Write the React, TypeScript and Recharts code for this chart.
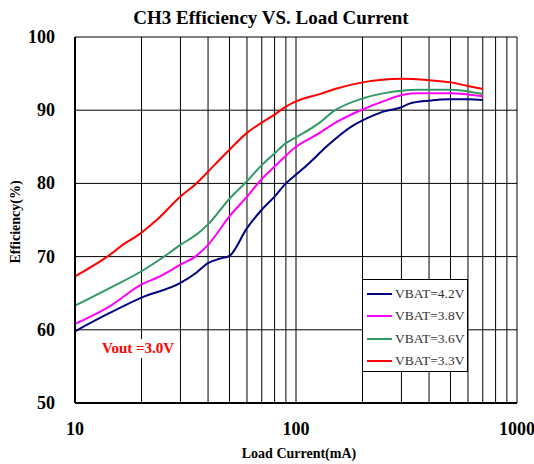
import React from 'react';
import { LineChart, Line, XAxis, YAxis, CartesianGrid } from 'recharts';

// load current (mA) and efficiency (%) per battery voltage
const loadVbat42 = [10, 14.35, 20, 30, 35.4, 40, 45, 50, 60, 70, 80, 90, 100, 115, 137, 181, 200, 248, 300, 326, 400, 500, 600, 700];
const effVbat42 = [59.8, 62.3, 64.4, 66.4, 67.8, 69.1, 69.7, 70.1, 73.9, 76.4, 78.2, 80.0, 81.2, 82.8, 85.0, 87.9, 88.6, 89.8, 90.4, 90.9, 91.3, 91.5, 91.5, 91.4];

const loadVbat38 = [10, 14.35, 20, 24.2, 30, 35.4, 40, 50, 60, 70, 80, 100, 128, 147, 200, 248, 305, 357, 500, 700];
const effVbat38 = [60.8, 63.2, 66.2, 67.3, 68.9, 70.1, 71.6, 75.5, 78.2, 80.6, 82.3, 85.0, 86.9, 88.1, 90.1, 91.2, 92.1, 92.3, 92.3, 91.9];

const loadVbat36 = [10, 14.35, 20, 24.2, 30, 35.4, 40, 50, 60, 70, 80, 90, 100, 128, 147, 200, 248, 357, 500, 700];
const effVbat36 = [63.3, 65.7, 68.0, 69.6, 71.6, 73.0, 74.4, 77.9, 80.3, 82.5, 84.1, 85.5, 86.3, 88.3, 89.8, 91.6, 92.3, 92.8, 92.8, 92.2];

const loadVbat33 = [10, 14, 17, 19, 23.4, 30, 35.4, 40, 45, 50, 60, 70, 80, 90, 100, 128, 150, 200, 300, 400, 500, 600, 700];
const effVbat33 = [67.3, 70.0, 71.9, 72.8, 75.0, 78.2, 80.0, 81.6, 83.2, 84.6, 86.9, 88.3, 89.4, 90.5, 91.2, 92.2, 92.9, 93.8, 94.3, 94.1, 93.8, 93.3, 92.9];

const xTicks = [10, 20, 30, 40, 50, 60, 70, 80, 90, 100, 200, 300, 400, 500, 600, 700, 800, 900, 1000];
const xLabels = [10, 100, 1000];
const yTicks = [50, 60, 70, 80, 90, 100];

const series = [
  { name: 'VBAT=4.2V', color: '#000080', load: loadVbat42, eff: effVbat42 },
  { name: 'VBAT=3.8V', color: '#ff00ff', load: loadVbat38, eff: effVbat38 },
  { name: 'VBAT=3.6V', color: '#339966', load: loadVbat36, eff: effVbat36 },
  { name: 'VBAT=3.3V', color: '#ff0000', load: loadVbat33, eff: effVbat33 },
];

const serif = '"Liberation Serif", "Times New Roman", serif';

const XTick = (props: any) => {
  const { x, y, payload } = props;
  if (!xLabels.includes(payload.value)) return null;
  return (
    <text x={x} y={y + 24} textAnchor="middle" fontFamily={serif} fontWeight="bold" fontSize={18} fill="#000">
      {payload.value}
    </text>
  );
};

const YTick = (props: any) => {
  const { x, y, payload } = props;
  return (
    <text x={x - 12} y={y + 6} textAnchor="end" fontFamily={serif} fontWeight="bold" fontSize={18} fill="#000">
      {payload.value}
    </text>
  );
};

const App = () => {
  return (
    <div style={{ position: 'relative', width: 534, height: 464, overflow: 'hidden', fontFamily: serif, background: '#fff' }}>
      <style>{'body { margin: 0; } svg { overflow: visible; }'}</style>
      <div style={{ position: 'absolute', left: 8, top: 8 }}>
        <LineChart width={526} height={456} margin={{ top: 29, right: 17, bottom: 1, left: 7 }}>
          <CartesianGrid stroke="#000" strokeWidth={1} />
          <XAxis
            type="number"
            dataKey="x"
            scale="log"
            domain={[10, 1000]}
            ticks={xTicks}
            allowDataOverflow
            height={60}
            tickLine={false}
            axisLine={{ stroke: '#000', strokeWidth: 2 }}
            tick={<XTick />}
            interval={0}
          />
          <YAxis
            type="number"
            dataKey="y"
            domain={[50, 100]}
            ticks={yTicks}
            width={60}
            tickLine={false}
            axisLine={{ stroke: '#000', strokeWidth: 2 }}
            tick={<YTick />}
            interval={0}
          />
          {series.map((s) => (
            <Line
              key={s.name}
              name={s.name}
              data={s.load.map((x, i) => ({ x, y: s.eff[i] }))}
              dataKey="y"
              type="monotone"
              stroke={s.color}
              strokeWidth={2}
              dot={false}
              isAnimationActive={false}
            />
          ))}
        </LineChart>

        <div style={{ position: 'absolute', left: 0, top: 0, width: 526, textAlign: 'center', fontSize: 19, fontWeight: 'bold', lineHeight: '20px' }}>
          CH3 Efficiency VS. Load Current
        </div>

        <div style={{ position: 'absolute', left: 191, top: 438, width: 200, textAlign: 'center', fontSize: 14, fontWeight: 'bold', lineHeight: '16px' }}>
          Load Current(mA)
        </div>

        <div
          style={{
            position: 'absolute', left: 8 - 60, top: 214 - 8, width: 120, textAlign: 'center',
            fontSize: 14, fontWeight: 'bold', lineHeight: '16px', transform: 'rotate(-90deg)',
          }}
        >
          Efficiency(%)
        </div>

        <div style={{ position: 'absolute', left: 90, top: 331, padding: '0 6px 0 4px', background: '#fff', color: '#ff0000', fontSize: 15, fontWeight: 'bold', lineHeight: '19px' }}>
          Vout =3.0V
        </div>

        <div style={{ position: 'absolute', left: 354, top: 271, width: 104, height: 88, border: '1px solid #000', background: '#fff', paddingTop: 3, boxSizing: 'content-box' }}>
          {series.map((s) => (
            <div key={s.name} style={{ display: 'flex', alignItems: 'center', height: 22.3 }}>
              <div style={{ marginLeft: 4, width: 25, height: 2, background: s.color }} />
              <span style={{ marginLeft: 3, fontSize: 13.5, color: '#333', lineHeight: '16px' }}>{s.name}</span>
            </div>
          ))}
        </div>
      </div>
    </div>
  );
};

export default App;
